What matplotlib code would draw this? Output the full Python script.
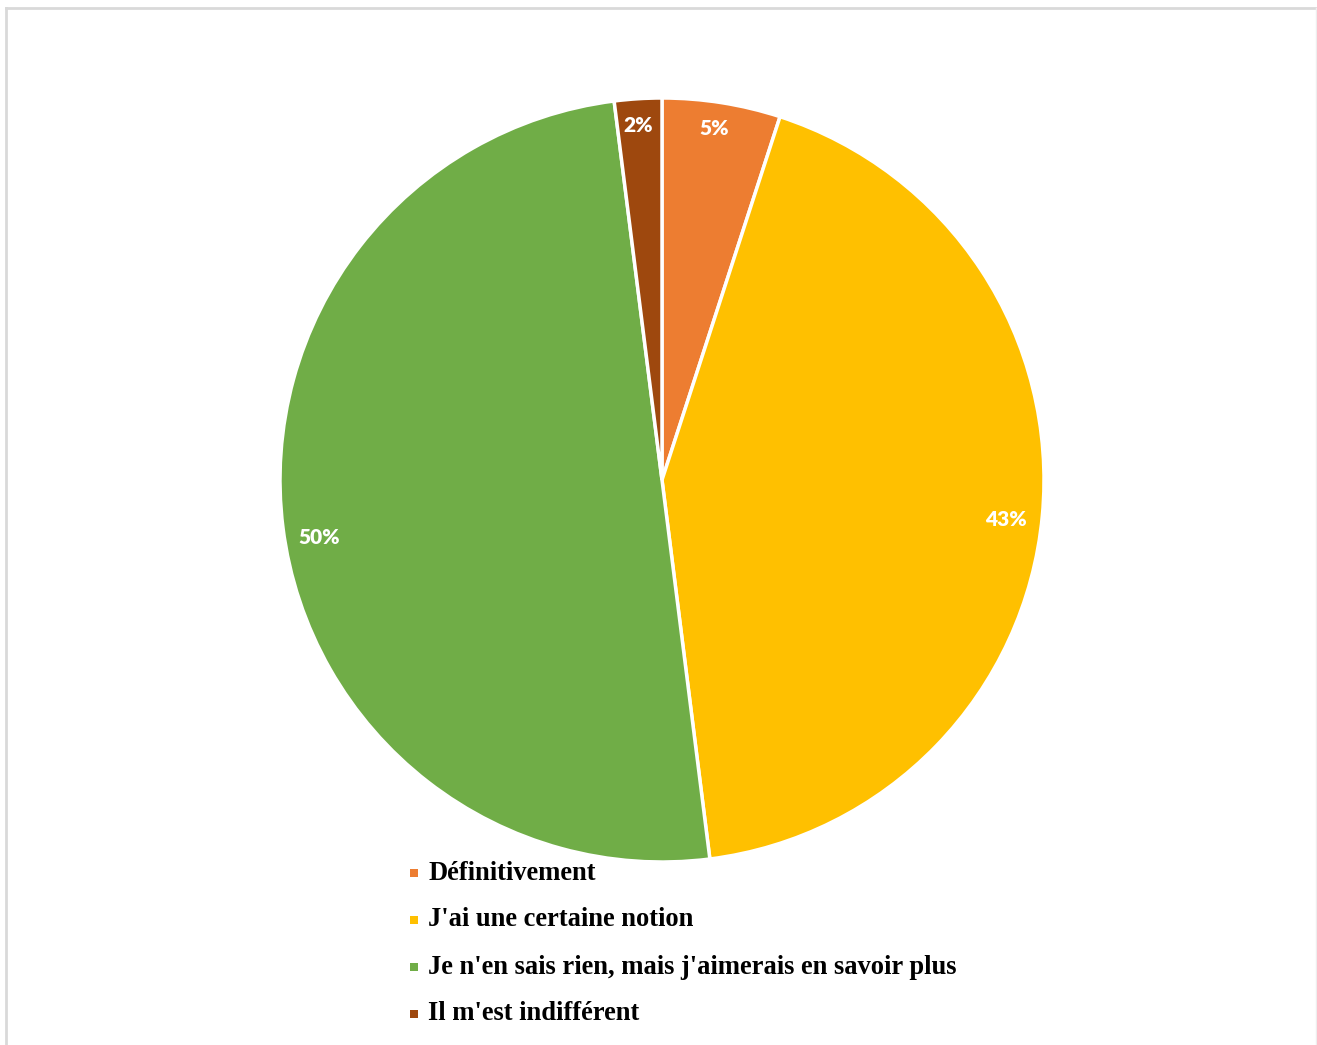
import matplotlib
matplotlib.use("Agg")
import matplotlib.pyplot as plt
from matplotlib.lines import Line2D
from matplotlib.patches import Rectangle
import numpy as np

categories = [
    "Définitivement",
    "J'ai une certaine notion",
    "Je n'en sais rien, mais j'aimerais en savoir plus",
    "Il m'est indifférent",
]
values = [5, 43, 50, 2]
colors = ["#ED7D31", "#FFC000", "#70AD47", "#9E480E"]

W, H = 1317, 1045
fig = plt.figure(figsize=(W / 100, H / 100), dpi=100)
fig.patch.set_facecolor("white")

# Light grey frame (left, top, right)
frame_col = "#D9D9D9"
fig.add_artist(Line2D([5.5 / W, 5.5 / W], [0, 1 - 7.5 / H], transform=fig.transFigure,
                      color=frame_col, lw=2))
fig.add_artist(Line2D([5.5 / W, 1316 / W], [1 - 7.5 / H, 1 - 7.5 / H], transform=fig.transFigure,
                      color=frame_col, lw=2))
fig.add_artist(Line2D([1316 / W, 1316 / W], [0, 1 - 7.5 / H], transform=fig.transFigure,
                      color="#EEEEEE", lw=1))

# Pie area
cx, cy, r = 662, 480, 382
ax = fig.add_axes([(cx - r) / W, 1 - (cy + r) / H, 2 * r / W, 2 * r / H])

wedges, _ = ax.pie(values, colors=colors, startangle=90, counterclock=False,
                   radius=1, wedgeprops=dict(edgecolor="white", linewidth=2.5))
ax.set_xlim(-1, 1)
ax.set_ylim(-1, 1)
ax.set_aspect("equal")
ax.axis("off")

# Percentage labels near the outer rim (radius fraction, angular nudge in degrees)
total = sum(values)
dists = [0.93, 0.905, 0.91, 0.93]
nudges = [0.5, -1.1, 2.4, 0.3]
for w, v, d, dn in zip(wedges, values, dists, nudges):
    ang = np.deg2rad((w.theta1 + w.theta2) / 2 + dn)
    ax.text(d * np.cos(ang), d * np.sin(ang), f"{v / total * 100:.0f}%",
            ha="center", va="center", color="white", fontsize=15,
            fontweight="heavy", family="Lato")

# Legend
y0, dy = 873, 47
for i, (lab, col) in enumerate(zip(categories, colors)):
    y = y0 + i * dy
    fig.add_artist(Rectangle((410 / W, 1 - (y + 4) / H), 8 / W, 8 / H,
                             transform=fig.transFigure, facecolor=col, edgecolor="none"))
    fig.text(428 / W, 1 - y / H, lab, ha="left", va="center", fontsize=19.1,
             fontweight="bold", family="Liberation Serif", color="black")

fig.savefig("out.png", dpi=100, facecolor="white")
